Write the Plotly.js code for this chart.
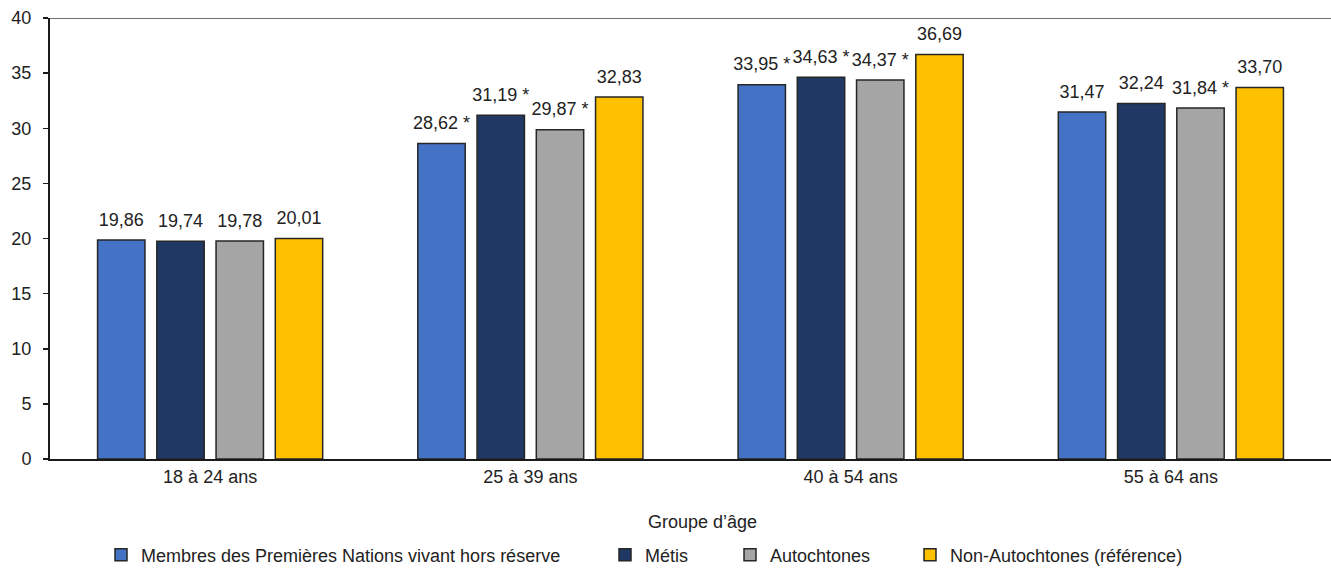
<!DOCTYPE html>
<html>
<head>
<meta charset="utf-8">
<script src="https://cdn.plot.ly/plotly-3.0.1.min.js"></script>
<style>html,body{margin:0;padding:0;background:#fff;}</style>
</head>
<body>
<div id="chart" style="width:1331px;height:568px;"></div>
<script>
const categories = ["18 à 24 ans", "25 à 39 ans", "40 à 54 ans", "55 à 64 ans"];
const seriesNames = ["Membres des Premières Nations vivant hors réserve", "Métis", "Autochtones", "Non-Autochtones (référence)"];
const premieresNations = [19.86, 28.62, 33.95, 31.47];
const metis = [19.74, 31.19, 34.63, 32.24];
const autochtones = [19.78, 29.87, 34.37, 31.84];
const nonAutochtones = [20.01, 32.83, 36.69, 33.70];
const sigPremieresNations = [false, true, true, false];
const sigMetis = [false, true, true, false];
const sigAutochtones = [false, true, true, true];
const sigNonAutochtones = [false, false, false, false];
const yTicks = [0, 5, 10, 15, 20, 25, 30, 35, 40];

const colors = ["#4472C4", "#203864", "#A5A5A5", "#FFC000"];
const FONT = "'Liberation Sans', Arial, sans-serif";
const TXT = "#222222";

function fmt(v, sig) {
  const s = v.toFixed(2).replace(".", ",");
  return sig ? s + " *" : s;
}

const allValues = [premieresNations, metis, autochtones, nonAutochtones];
const allSig = [sigPremieresNations, sigMetis, sigAutochtones, sigNonAutochtones];
const legendIds = ["legend", "legend2", "legend3", "legend4"];

const barTraces = allValues.map((vals, i) => ({
  type: "bar",
  name: seriesNames[i],
  x: categories,
  y: vals,
  marker: {color: colors[i], line: {color: "#262626", width: 1.5}},
  legend: legendIds[i],
  hoverinfo: "skip"
}));

// value labels, grouped the same way as the bars
const labelTraces = allValues.map((vals, i) => ({
  type: "scatter",
  mode: "markers+text",
  name: seriesNames[i] + " (étiquettes)",
  x: categories,
  y: vals,
  text: vals.map((v, j) => fmt(v, allSig[i][j])),
  textposition: "top center",
  textfont: {family: FONT, size: 18, color: TXT},
  marker: {size: 14, color: "rgba(0,0,0,0)", opacity: 0},
  cliponaxis: false,
  showlegend: false,
  hoverinfo: "skip"
}));

const legendTextPx = [141, 645, 770, 950];
const legendCommon = {
  orientation: "h",
  xanchor: "left",
  yanchor: "middle",
  y: -0.218,
  font: {family: FONT, size: 18, color: TXT},
  bgcolor: "rgba(0,0,0,0)",
  itemwidth: 30,
  tracegroupgap: 0
};
const layout = {
  width: 1331,
  height: 568,
  margin: {l: 50, r: 0, t: 18, b: 109, autoexpand: false},
  paper_bgcolor: "#ffffff",
  plot_bgcolor: "#ffffff",
  font: {family: FONT, size: 18, color: TXT},
  barmode: "group",
  bargap: 0.26,
  bargroupgap: 0.2,
  scattermode: "group",
  scattergap: 0.26,
  showlegend: true,
  xaxis: {
    type: "category",
    showline: true,
    linecolor: "#1a1a1a",
    linewidth: 2,
    ticks: "",
    showgrid: false,
    zeroline: false,
    tickfont: {family: FONT, size: 18, color: TXT},
    fixedrange: true
  },
  yaxis: {
    range: [0, 40],
    tickvals: yTicks,
    ticktext: yTicks.map(String),
    showline: true,
    linecolor: "#1a1a1a",
    linewidth: 2,
    ticks: "outside",
    ticklen: 5,
    tickcolor: "#1a1a1a",
    tickwidth: 1.5,
    ticklabelstandoff: 8,
    showgrid: false,
    zeroline: false,
    tickfont: {family: FONT, size: 18, color: TXT},
    fixedrange: true
  },
  shapes: [{
    type: "line", xref: "paper", yref: "y",
    x0: 0, x1: 1, y0: 40, y1: 40,
    line: {color: "#404040", width: 1.5}
  }],
  annotations: [{
    text: "Groupe d’âge",
    xref: "paper", yref: "paper",
    x: (702 - 50) / 1281, y: (459 - 522) / 441,
    xanchor: "center", yanchor: "middle",
    showarrow: false,
    font: {family: FONT, size: 18, color: TXT}
  }]
};
legendIds.forEach((id, i) => {
  layout[id] = Object.assign({}, legendCommon, {x: (legendTextPx[i] - 40 - 50) / 1281});
});

Plotly.newPlot("chart", barTraces.concat(labelTraces), layout, {displayModeBar: false, staticPlot: true});
</script>
</body>
</html>
